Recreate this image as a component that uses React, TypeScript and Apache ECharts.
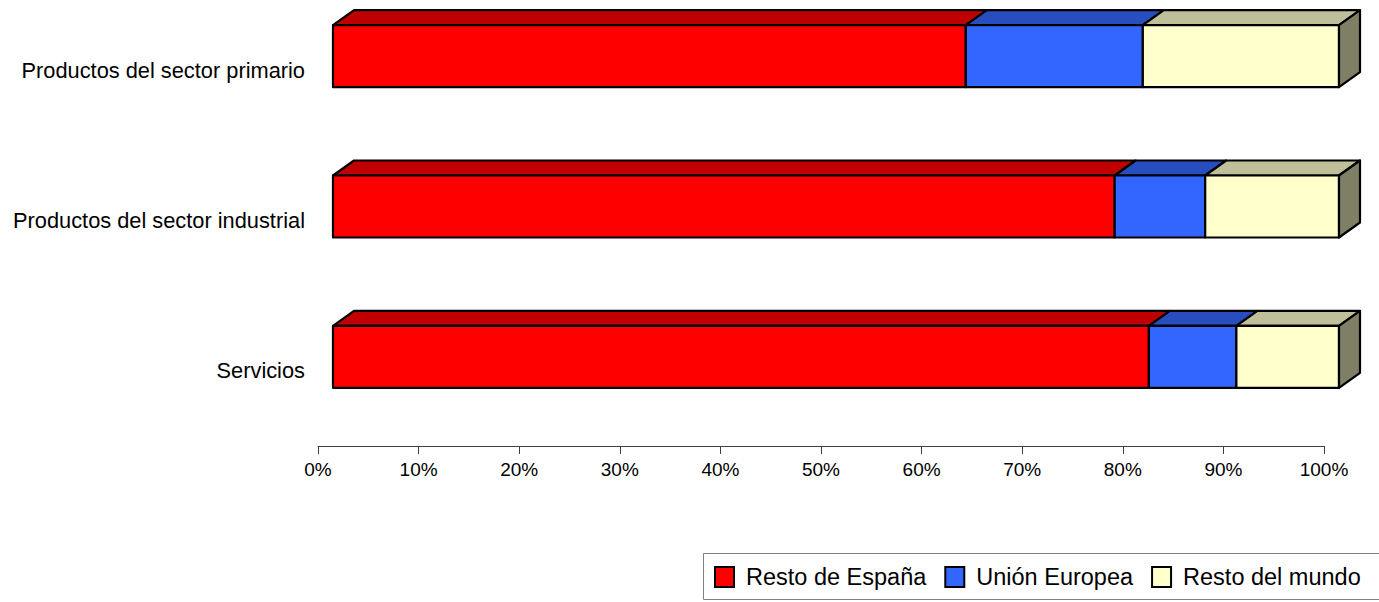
import React, { useEffect, useRef } from "react";
import * as echarts from "echarts";

const categories = [
  "Productos del sector primario",
  "Productos del sector industrial",
  "Servicios",
];
const seriesNames = ["Resto de España", "Unión Europea", "Resto del mundo"];
const restoEspana = [62.9, 77.7, 81.1];
const unionEuropea = [17.6, 9.0, 8.7];
const restoMundo = [19.5, 13.3, 10.2];
const xTicks = [0, 10, 20, 30, 40, 50, 60, 70, 80, 90, 100];

const frontColors = ["#FF0000", "#3366FF", "#FFFFCC"];
const topColors = ["#C00000", "#274DBF", "#BFBF99"];
const sideColor = "#7F7F66";

const REG = "'Liberation Sans', Arial, sans-serif";

export default function App() {
  const ref = useRef<HTMLDivElement>(null);
  useEffect(() => {
    if (!ref.current) return;
    document.body.style.margin = "0";
    const chart = echarts.init(ref.current, null, { renderer: "svg" });
    const all = [restoEspana, unionEuropea, restoMundo];
    const DX = 15;
    const DY = -14;
    const H = 62;
    const DEPTH_X = 21;
    const DEPTH_Y = 15;

    const series = all.map((vals, si) => {
      const data = vals.map((v, ci) => {
        let start = 0;
        for (let k = 0; k < si; k++) start += all[k][ci];
        return [start, start + v, ci];
      });
      const isLast = si === all.length - 1;
      return {
        type: "custom",
        name: seriesNames[si],
        itemStyle: { color: frontColors[si], borderColor: "#000", borderWidth: 2 },
        encode: { x: [0, 1], y: 2 },
        data,
        renderItem: (params: any, api: any) => {
          const p0 = api.coord([api.value(0), api.value(2)]);
          const p1 = api.coord([api.value(1), api.value(2)]);
          const x0 = p0[0] + DX;
          const x1 = p1[0] + DX;
          const cy = p0[1] + DY;
          const top = cy - H / 2;
          const bottom = cy + H / 2;
          const line = { stroke: "#000", lineWidth: 2.2, lineJoin: "round" };
          const children: any[] = [
            {
              type: "polygon",
              shape: {
                points: [
                  [x0, top],
                  [x0 + DEPTH_X, top - DEPTH_Y],
                  [x1 + DEPTH_X, top - DEPTH_Y],
                  [x1, top],
                ],
              },
              style: { fill: topColors[si], ...line },
            },
            {
              type: "rect",
              shape: { x: x0, y: top, width: x1 - x0, height: H },
              style: { fill: frontColors[si], ...line },
            },
          ];
          if (isLast) {
            children.push({
              type: "polygon",
              shape: {
                points: [
                  [x1, top],
                  [x1 + DEPTH_X, top - DEPTH_Y],
                  [x1 + DEPTH_X, bottom - DEPTH_Y],
                  [x1, bottom],
                ],
              },
              style: { fill: sideColor, ...line },
            });
          }
          return { type: "group", children };
        },
      };
    });

    chart.setOption({
      animation: false,
      backgroundColor: "#fff",
      grid: {
        left: 318,
        right: 55,
        top: -5,
        bottom: 156,
        containLabel: false,
        outerBoundsMode: "none",
      },
      graphic: [
        {
          type: "polyline",
          z: 0,
          silent: true,
          shape: {
            points: [
              [1440, 553.5],
              [703.5, 553.5],
              [703.5, 599.5],
              [1440, 599.5],
            ],
          },
          style: { fill: "none", stroke: "#808080", lineWidth: 1 },
        },
      ],
      xAxis: {
        type: "value",
        min: 0,
        max: 100,
        interval: 10,
        axisLine: { show: true, lineStyle: { color: "#404040", width: 1 } },
        axisTick: { show: true, length: 8, lineStyle: { color: "#404040" } },
        splitLine: { show: false },
        axisLabel: {
          formatter: (v: number) => (xTicks.includes(v) ? v + "%" : ""),
          color: "#000",
          fontSize: 19,
          fontFamily: REG,
          margin: 14,
        },
      },
      yAxis: {
        type: "category",
        data: categories,
        inverse: true,
        axisLine: { show: false },
        axisTick: { show: false },
        axisLabel: {
          color: "#000",
          fontSize: 21.8,
          fontFamily: REG,
          margin: 13,
        },
      },
      legend: {
        show: true,
        left: 703,
        top: 553,
        width: 760,
        orient: "horizontal",
        z: 10,
        padding: [12, 0, 6, 11],
        itemWidth: 19,
        itemHeight: 20,
        itemGap: 18,
        icon: "rect",
        textStyle: {
          color: "#000",
          fontSize: 23.5,
          fontFamily: REG,
          padding: [0, 0, 0, 7],
        },
        data: seriesNames.map((n, i) => ({
          name: n,
          itemStyle: { color: frontColors[i], borderColor: "#000", borderWidth: 2 },
        })),
      },
      series,
    });
    return () => chart.dispose();
  }, []);
  return <div ref={ref} style={{ width: 1379, height: 602 }} />;
}
